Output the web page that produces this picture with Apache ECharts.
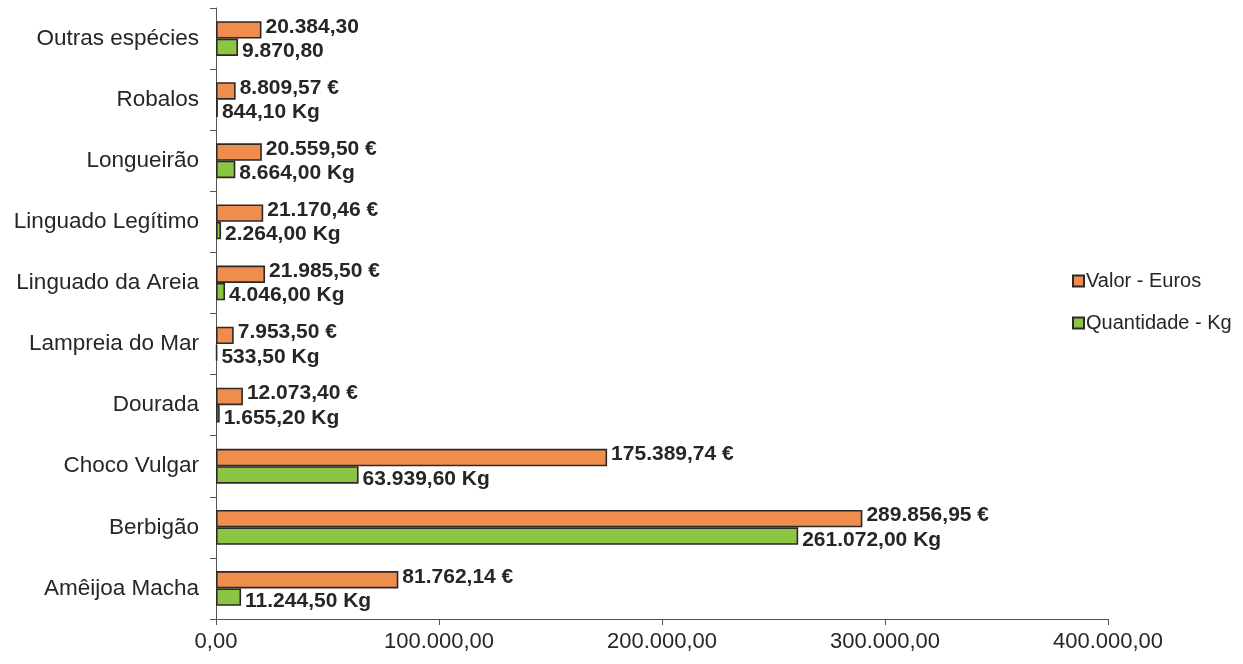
<!DOCTYPE html>
<html>
<head>
<meta charset="utf-8">
<script src="https://cdn.jsdelivr.net/npm/echarts@6/dist/echarts.min.js"></script>
<style>html,body{margin:0;padding:0;background:#fff}#c{width:1243px;height:664px}</style>
</head>
<body>
<div id="c"></div>
<script>
const categories = ['Amêijoa Macha','Berbigão','Choco Vulgar','Dourada','Lampreia do Mar','Linguado da Areia','Linguado Legítimo','Longueirão','Robalos','Outras espécies'];
const valorEuros = [81762.14, 289856.95, 175389.74, 12073.40, 7953.50, 21985.50, 21170.46, 20559.50, 8809.57, 20384.30];
const quantidadeKg = [11244.50, 261072.00, 63939.60, 1655.20, 533.50, 4046.00, 2264.00, 8664.00, 844.10, 9870.80];
const showUnit = [true, true, true, true, true, true, true, true, true, false];
const seriesNames = ['Valor - Euros', 'Quantidade - Kg'];
const unitSuffix = [' €', ' Kg'];
const xTicks = [0, 100000, 200000, 300000, 400000];

function fmt(v) {
  const parts = v.toFixed(2).split('.');
  parts[0] = parts[0].replace(/\B(?=(\d{3})+(?!\d))/g, '.');
  return parts[0] + ',' + parts[1];
}

const FONT = '"Liberation Sans", Arial, sans-serif';
const chart = echarts.init(document.getElementById('c'));

function mkSeries(idx, data, color, offY) {
  return {
    name: seriesNames[idx],
    type: 'bar',
    data: data,
    barGap: '0%',
    barCategoryGap: '43%',
    itemStyle: { color: color, borderColor: '#2a2a2a', borderWidth: 1.6 },
    label: {
      show: true,
      position: 'right',
      distance: 4,
      offset: [0, offY],
      fontFamily: FONT,
      fontSize: 21,
      fontWeight: 'bold',
      color: '#262626',
      formatter: p => fmt(p.value) + (showUnit[p.dataIndex] ? unitSuffix[idx] : '')
    }
  };
}

chart.setOption({
  backgroundColor: '#fff',
  animation: false,
  grid: { left: 216, right: 135, top: 8, bottom: 45, containLabel: false },
  legend: {
    orient: 'vertical',
    left: 1067,
    top: 266,
    itemGap: 22,
    itemWidth: 11,
    itemHeight: 11,
    icon: 'rect',
    textStyle: { fontFamily: FONT, fontSize: 20, color: '#262626', padding: [0, 0, 0, -3] },
    data: seriesNames
  },
  xAxis: {
    type: 'value',
    min: xTicks[0],
    max: xTicks[xTicks.length - 1],
    interval: 100000,
    axisLine: { show: true, lineStyle: { color: '#555', width: 1 } },
    axisTick: { show: true, inside: false, length: 6, lineStyle: { color: '#555' } },
    splitLine: { show: false },
    axisLabel: { margin: 12, fontFamily: FONT, fontSize: 22, color: '#262626', formatter: v => fmt(v) }
  },
  yAxis: {
    type: 'category',
    data: categories,
    axisLine: { show: true, lineStyle: { color: '#555', width: 1 } },
    axisTick: { show: true, length: 6, alignWithLabel: false, lineStyle: { color: '#555' } },
    axisLabel: { margin: 17, fontFamily: FONT, fontSize: 22.5, color: '#262626' }
  },
  series: [
    mkSeries(0, valorEuros, '#EF8D4C', -3),
    mkSeries(1, quantidadeKg, '#8CC443', 4)
  ]
});
</script>
</body>
</html>
